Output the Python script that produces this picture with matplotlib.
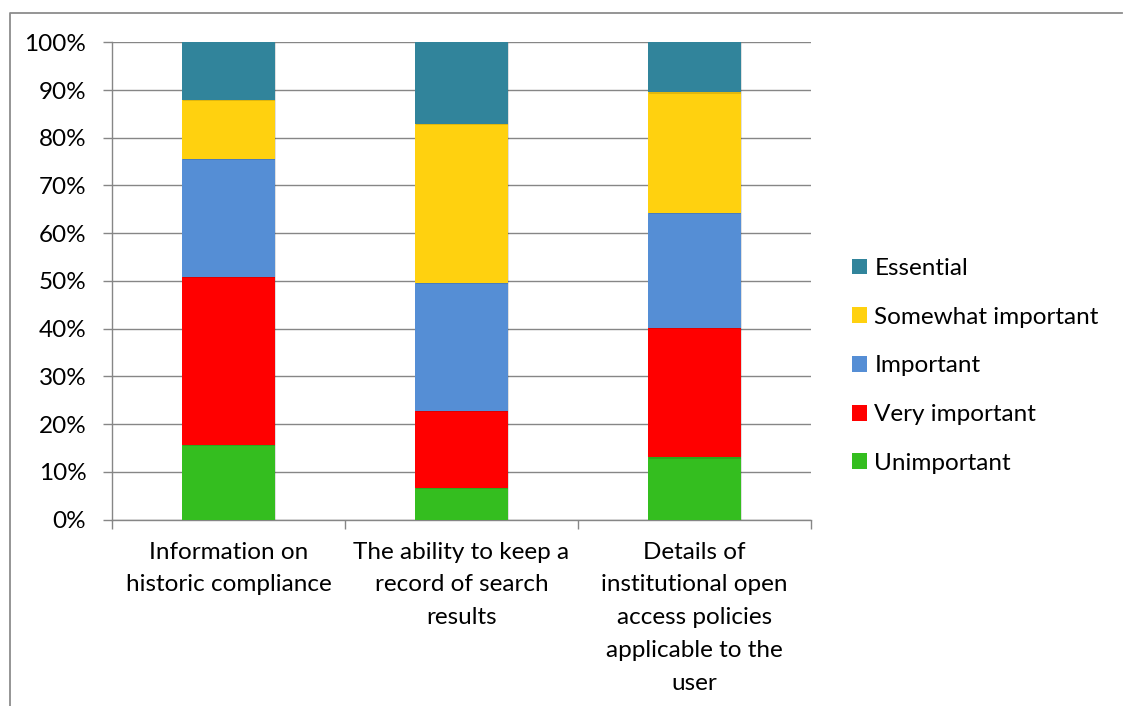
import matplotlib
matplotlib.use("Agg")
import matplotlib.pyplot as plt
from matplotlib.lines import Line2D
from matplotlib import patheffects as pe
import numpy as np

plt.rcParams['font.family'] = ['Lato', 'DejaVu Sans']

categories = [
    "Information on\nhistoric compliance",
    "The ability to keep a\nrecord of search\nresults",
    "Details of\ninstitutional open\naccess policies\napplicable to the\nuser",
]
series_names = ["Unimportant", "Very important", "Important",
                "Somewhat important", "Essential"]
unimportant = [15.6, 6.7, 13.0]
very_important = [35.3, 16.0, 27.2]
important = [24.6, 26.9, 24.1]
somewhat_important = [12.5, 33.2, 25.2]
essential = [12.0, 17.2, 10.5]
series_colors = ["#34BE1F", "#FF0000", "#558ED5", "#FFD10F", "#31849B"]

y_ticks = list(range(0, 101, 10))
y_tick_labels = [f"{v}%" for v in y_ticks]

values = np.array([unimportant, very_important, important,
                   somewhat_important, essential], dtype=float)
shares = values / values.sum(axis=0) * 100

FS = 17.5

fig = plt.figure(figsize=(11.23, 7.06), dpi=100)
ax = fig.add_axes([112 / 1123, 1 - 519.5 / 706, 699 / 1123, 477.2 / 706])

grid_color = "#868686"
x = np.arange(len(categories))
bottom = np.zeros(len(categories))
handles = []
for name, row, color in zip(series_names, shares, series_colors):
    bars = ax.bar(x, row, width=0.4, bottom=bottom, color=color,
                  edgecolor="none", zorder=3, label=name)
    for b in bars:
        b.set_path_effects([pe.SimplePatchShadow(offset=(0.8, -0.8),
                                                 shadow_rgbFace="#000000",
                                                 alpha=0.12),
                            pe.Normal()])
    handles.append(bars)
    bottom += row

ax.set_xlim(-0.5, len(categories) - 0.5)
ax.set_ylim(0, 100)
ax.set_yticks(y_ticks)
ax.set_yticklabels(y_tick_labels)
ax.yaxis.grid(True, color=grid_color, linewidth=1.0, zorder=0)
ax.set_axisbelow(True)

ax.set_xticks(x)
ax.set_xticklabels(categories, linespacing=1.69)
ax.set_xticks(np.arange(-0.5, len(categories), 1.0), minor=True)
ax.tick_params(axis="x", which="major", length=0, pad=16, labelsize=FS,
               colors="#000000")
ax.tick_params(axis="x", which="minor", length=6.5, width=1.0,
               color=grid_color, direction="out")
ax.tick_params(axis="y", length=6.5, width=1.0, color=grid_color, pad=12,
               labelsize=FS)

for side in ["top", "right"]:
    ax.spines[side].set_visible(False)
for side in ["left", "bottom"]:
    ax.spines[side].set_color(grid_color)
    ax.spines[side].set_linewidth(1.0)

leg = fig.legend(handles[::-1], series_names[::-1], loc="center left",
                 bbox_to_anchor=(852 / 1123, 1 - 366 / 706), frameon=False,
                 fontsize=FS, handlelength=0.62, handleheight=0.62,
                 handletextpad=0.3, labelspacing=1.14, borderaxespad=0,
                 borderpad=0)
for h in leg.legend_handles:
    h.set_path_effects([])

# outer chart border (top and left edges)
fig.add_artist(Line2D([10 / 1123, 10 / 1123, 1122 / 1123],
                      [0, 1 - 13 / 706, 1 - 13 / 706],
                      transform=fig.transFigure, color="#8C8C8C",
                      linewidth=1.3))

fig.savefig("out.png", dpi=100)
